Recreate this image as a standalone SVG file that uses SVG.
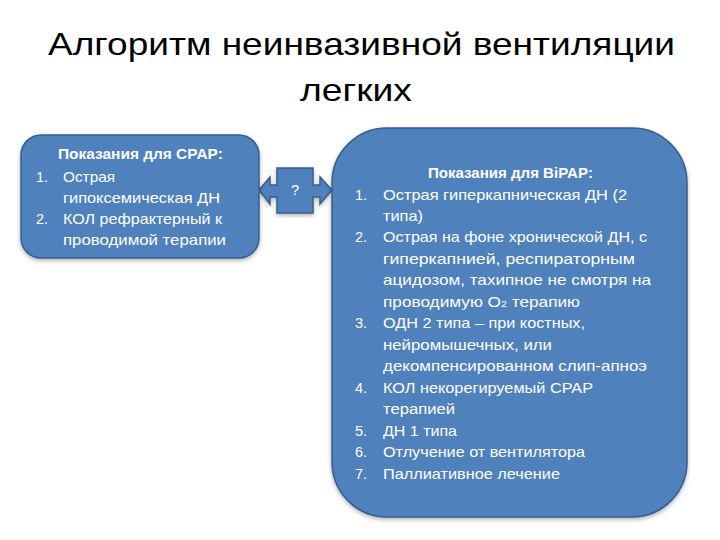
<svg xmlns="http://www.w3.org/2000/svg" width="720" height="540" viewBox="0 0 720 540">
<style>
.title{font-family:"Liberation Sans","Open Sans",sans-serif;font-size:32px;fill:#000}
.box{fill:#4F81BD;stroke:#385D8A;stroke-width:1.5}
.t{font-family:"Liberation Sans","Open Sans",sans-serif;font-size:14.5px;fill:#fff}
.b{font-weight:bold}
</style>
<defs>
<filter id="sh" x="-10%" y="-10%" width="120%" height="120%">
<feDropShadow dx="0" dy="2" stdDeviation="2" flood-color="#000" flood-opacity="0.3"/>
</filter>
</defs>
<rect width="720" height="540" fill="#fff"/>
<g id="title">
<text class="title" x="48" y="55" textLength="627" lengthAdjust="spacingAndGlyphs">Алгоритм неинвазивной вентиляции</text>
<text class="title" x="300" y="101" textLength="112" lengthAdjust="spacingAndGlyphs">легких</text>
</g>
<g id="connectors">
<path class="box" filter="url(#sh)" d="M259,190 L270,177 L270,185 L277,185 L277,168 L313,168 L313,185 L320,185 L320,177 L332,190 L320,204 L320,197 L313,197 L313,213 L277,213 L277,197 L270,197 L270,204 Z"/>
<text class="t" x="295" y="195" text-anchor="middle">?</text>
</g>
<g id="cpap">
<rect class="box" filter="url(#sh)" x="21" y="135" width="238" height="123" rx="20" ry="20"/>
<text class="t b" x="58" y="159" textLength="165" lengthAdjust="spacingAndGlyphs">Показания для CPAP:</text>
<text class="t" x="36" y="182">1.</text>
<text class="t" x="63" y="182" textLength="52" lengthAdjust="spacingAndGlyphs">Острая</text>
<text class="t" x="63" y="203" textLength="157" lengthAdjust="spacingAndGlyphs">гипоксемическая ДН</text>
<text class="t" x="36" y="224">2.</text>
<text class="t" x="63" y="224" textLength="159" lengthAdjust="spacingAndGlyphs">КОЛ рефрактерный к</text>
<text class="t" x="63" y="245" textLength="163" lengthAdjust="spacingAndGlyphs">проводимой терапии</text>
</g>
<g id="bipap">
<rect class="box" filter="url(#sh)" x="332" y="128" width="355" height="389" rx="55" ry="55"/>
<text class="t b" x="428" y="178" textLength="165" lengthAdjust="spacingAndGlyphs">Показания для BiPAP:</text>
<text class="t" x="355" y="200">1.</text>
<text class="t" x="383" y="200" textLength="244" lengthAdjust="spacingAndGlyphs">Острая гиперкапническая ДН (2</text>
<text class="t" x="383" y="221" textLength="40" lengthAdjust="spacingAndGlyphs">типа)</text>
<text class="t" x="355" y="242">2.</text>
<text class="t" x="383" y="242" textLength="264" lengthAdjust="spacingAndGlyphs">Острая на фоне хронической ДН, с</text>
<text class="t" x="383" y="264" textLength="252" lengthAdjust="spacingAndGlyphs">гиперкапнией, респираторным</text>
<text class="t" x="383" y="285" textLength="268" lengthAdjust="spacingAndGlyphs">ацидозом, тахипное не смотря на</text>
<text class="t" x="383" y="307" textLength="197" lengthAdjust="spacingAndGlyphs">проводимую О<tspan font-size="9px">2</tspan> терапию</text>
<text class="t" x="355" y="328">3.</text>
<text class="t" x="383" y="328" textLength="202" lengthAdjust="spacingAndGlyphs">ОДН 2 типа – при костных,</text>
<text class="t" x="383" y="350" textLength="169" lengthAdjust="spacingAndGlyphs">нейромышечных, или</text>
<text class="t" x="383" y="371" textLength="264" lengthAdjust="spacingAndGlyphs">декомпенсированном слип-апноэ</text>
<text class="t" x="355" y="393">4.</text>
<text class="t" x="383" y="393" textLength="210" lengthAdjust="spacingAndGlyphs">КОЛ некорегируемый CPAP</text>
<text class="t" x="383" y="414" textLength="72" lengthAdjust="spacingAndGlyphs">терапией</text>
<text class="t" x="355" y="436">5.</text>
<text class="t" x="383" y="436" textLength="74" lengthAdjust="spacingAndGlyphs">ДН 1 типа</text>
<text class="t" x="355" y="457">6.</text>
<text class="t" x="383" y="457" textLength="202" lengthAdjust="spacingAndGlyphs">Отлучение от вентилятора</text>
<text class="t" x="355" y="479">7.</text>
<text class="t" x="383" y="479" textLength="177" lengthAdjust="spacingAndGlyphs">Паллиативное лечение</text>
</g>
</svg>
